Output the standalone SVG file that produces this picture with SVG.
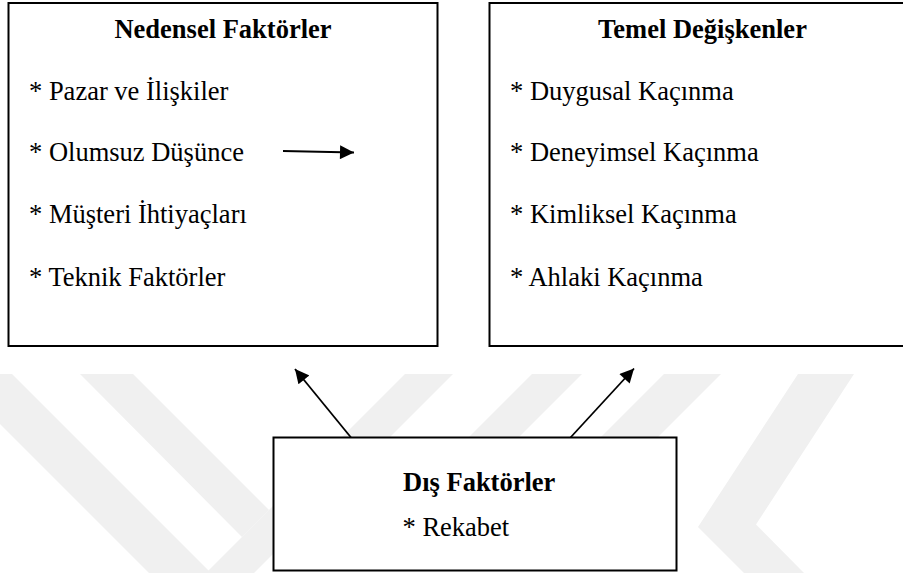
<svg xmlns="http://www.w3.org/2000/svg" width="903" height="573" viewBox="0 0 903 573">
  <style>
    .box { fill: #ffffff; stroke: #000000; stroke-width: 2; }
    .title { font-family: "Liberation Serif", "Times New Roman", serif; font-size: 26.5px; font-weight: bold; fill: #000000; }
    .item { font-family: "Liberation Serif", "Times New Roman", serif; font-size: 26.5px; fill: #000000; }
    .wm { fill: #f0f0f0; }
    .conn { fill: none; stroke: #000000; stroke-width: 1.8; marker-end: url(#head); }
  </style>
  <defs>
    <marker id="head" viewBox="0 0 10 10" refX="10" refY="5" markerUnits="userSpaceOnUse" markerWidth="15" markerHeight="14" orient="auto">
      <path d="M0,0 L10,5 L0,10 Z" fill="#000000"/>
    </marker>
  </defs>

  <rect width="903" height="573" fill="#ffffff"/>

  <!-- light background stripes -->
  <g id="watermark">
    <polygon class="wm" points="-50,374 12,374 211,573 149,573"/>
    <polygon class="wm" points="80,374 133,374 269,510 242,537"/>
    <polygon class="wm" points="405,374 453,374 254,573 206,573"/>
    <polygon class="wm" points="532,374 582,374 476,480 426,480"/>
    <polygon class="wm" points="664,374 721,374 615,480 558,480"/>
    <polygon class="wm" points="798,374 854,374 756,524.5 804,573 744,573 698,527"/>
  </g>

  <g id="node-nedensel">
    <rect class="box" x="8.5" y="3" width="429" height="343"/>
    <text class="title" x="223" y="38" text-anchor="middle">Nedensel Faktörler</text>
    <text class="item" x="29" y="99.5">* Pazar ve İlişkiler</text>
    <text class="item" x="29" y="161">* Olumsuz Düşünce</text>
    <text class="item" x="29" y="223">* Müşteri İhtiyaçları</text>
    <text class="item" x="29" y="285.5">* Teknik Faktörler</text>
  </g>

  <g id="node-temel">
    <rect class="box" x="489.5" y="3" width="427" height="343"/>
    <text class="title" x="702.5" y="38" text-anchor="middle">Temel Değişkenler</text>
    <text class="item" x="510" y="99.5">* Duygusal Kaçınma</text>
    <text class="item" x="510" y="161">* Deneyimsel Kaçınma</text>
    <text class="item" x="510" y="223">* Kimliksel Kaçınma</text>
    <text class="item" x="510" y="285.5">* Ahlaki Kaçınma</text>
  </g>

  <g id="node-dis">
    <rect class="box" x="273.5" y="437.5" width="403" height="133"/>
    <text class="title" x="403" y="491">Dış Faktörler</text>
    <text class="item" x="402.5" y="536">* Rekabet</text>
  </g>

  <g id="connectors">
    <path class="conn" d="M283,151 L354,152.5"/>
    <path class="conn" d="M351,437.5 L295,369"/>
    <path class="conn" d="M570.5,437.5 L634,368.5"/>
  </g>
</svg>
